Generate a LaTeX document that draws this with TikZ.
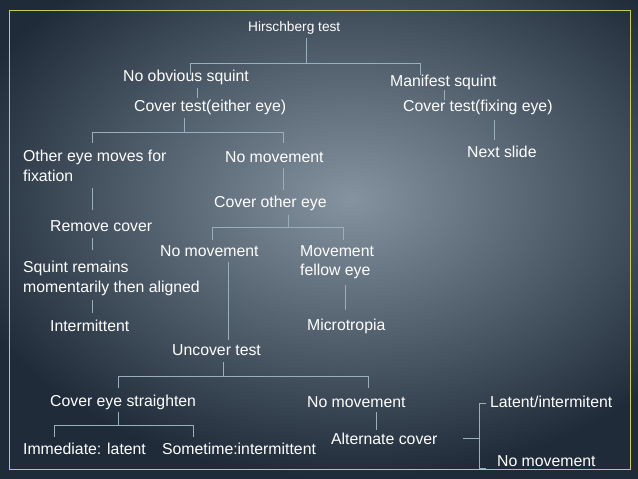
\documentclass[tikz,border=0pt]{standalone}
\usepackage{fontspec}
\setmainfont{Liberation Sans}
\usepackage{tikz}
\usetikzlibrary{arrows,shapes,positioning}
\definecolor{bgdark}{HTML}{1F2B39}
\definecolor{bglight}{HTML}{8593A0}
\definecolor{frameyel}{HTML}{C9C95A}
\definecolor{linecol}{HTML}{9AAEBB}

\begin{document}
\begin{tikzpicture}[x=0.05cm,y=-0.05cm,
  lbl/.style={anchor=west,text=white,inner sep=0pt,font=\fontsize{22.5}{26}\selectfont},
  tline/.style={draw=linecol,line width=0.8pt}]
\useasboundingbox (0,0) rectangle (638,478);
\shade[outer color=bgdark,inner color=bglight] (-60,-80) rectangle (760,478);
\draw[frameyel,line width=1.2pt] (9,10) rectangle (630,469);
%\SetVertexNoLabel
\node[lbl,font=\fontsize{19.5}{23}\selectfont] (HT) at (248,28) {Hirschberg test};
\node[lbl] (NOS) at (123,77) {No obvious squint};
\node[lbl] (MS) at (390,82) {Manifest squint};
\node[lbl] (CTE) at (134,107) {Cover test(either eye)};
\node[lbl] (CTF) at (403,107) {Cover test(fixing eye)};
\node[lbl] (OEM) at (23,157) {Other eye moves for};
\node[lbl] (FIX) at (23,176) {fixation};
\node[lbl] (NM1) at (225,157) {No movement};
\node[lbl] (NS) at (467,152) {Next slide};
\node[lbl] (COE) at (214,203) {Cover other eye};
\node[lbl] (RC) at (50,226) {Remove cover};
\node[lbl] (NM2) at (160,251) {No movement};
\node[lbl] (MOV) at (300,251) {Movement};
\node[lbl] (FE) at (300,271) {fellow eye};
\node[lbl] (SR) at (23,268) {Squint remains};
\node[lbl] (MTA) at (23,288) {momentarily then aligned};
\node[lbl] (INT) at (50,326) {Intermittent};
\node[lbl] (MIC) at (307,326) {Microtropia};
\node[lbl] (UT) at (172,350) {Uncover test};
\node[lbl] (CES) at (50,402) {Cover eye straighten};
\node[lbl] (NM3) at (307,402) {No movement};
\node[lbl] (IL) at (23,449) {Immediate: latent};
\node[lbl] (SI) at (162,449) {Sometime:intermittent};
\node[lbl] (AC) at (331,439) {Alternate cover};
\node[lbl] (LI) at (490,402) {Latent/intermitent};
\node[lbl] (NM4) at (497,461) {No movement};

\draw[tline] (306,38) -- (306,63) (190,75) -- (190,63) -- (420,63) -- (420,75);
\draw[tline] (197,88) -- (197,98);
\draw[tline] (444,90) -- (444,100);
\draw[tline] (184,118) -- (184,132) (92,143) -- (92,132) -- (283,132) -- (283,143);
\draw[tline] (494,120) -- (494,140);
\draw[tline] (283,168) -- (283,190);
\draw[tline] (92,188) -- (92,210);
\draw[tline] (288,215) -- (288,227) (212,240) -- (212,227) -- (343,227) -- (343,240);
\draw[tline] (92,238) -- (92,250);
\draw[tline] (92,300) -- (92,313);
\draw[tline] (345,285) -- (345,310);
\draw[tline] (228,262) -- (228,340);
\draw[tline] (223,362) -- (223,376) (118,388) -- (118,376) -- (368,376) -- (368,388);
\draw[tline] (118,412) -- (118,425) (54,437) -- (54,425) -- (193,425) -- (193,437);
\draw[tline] (376,412) -- (376,430);
\draw[tline] (463,438) -- (479,438) (486,403) -- (479,403) -- (479,468) -- (486,468);
\end{tikzpicture}
\end{document}
